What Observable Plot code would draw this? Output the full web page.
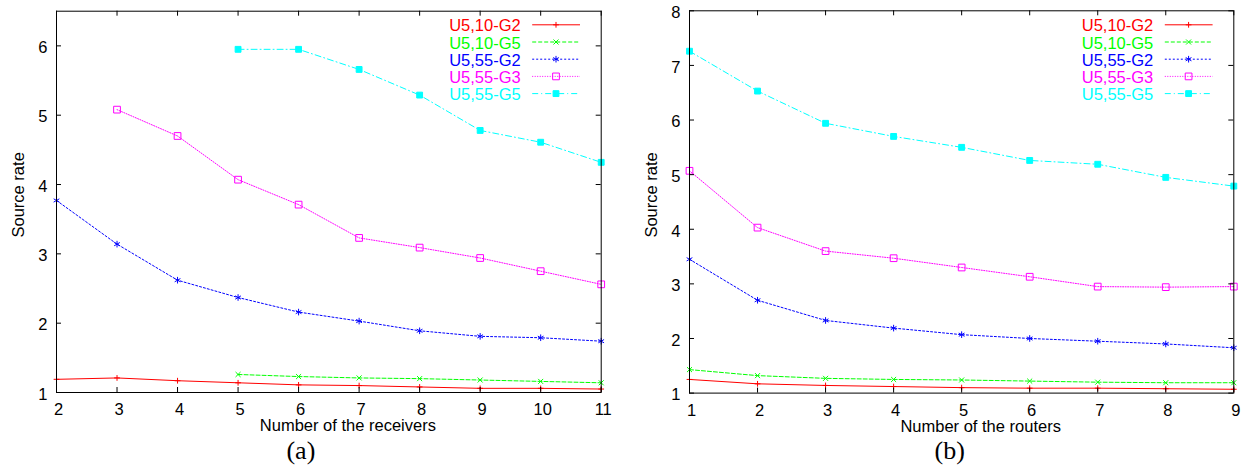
<!DOCTYPE html>
<html><head><meta charset="utf-8">
<script src="https://cdn.jsdelivr.net/npm/d3@7"></script>
<script src="https://cdn.jsdelivr.net/npm/@observablehq/plot@0.6"></script>
<style>
body{margin:0;background:#fff;}
#wrap{display:flex;width:1247px;height:466px;overflow:hidden;}
</style></head><body><div id="wrap"></div>
<script>
// ---- series (shared legend) ----
const seriesNames = ["U5,10-G2", "U5,10-G5", "U5,55-G2", "U5,55-G3", "U5,55-G5"];
const seriesColors = ["#ff0000", "#00ff00", "#0000ff", "#ff00ff", "#00ffff"];
const seriesDash = [null, "4,2", "2,2", "1,1.5", "6,3,1,3"];
const seriesSymbols = ["plus", "times", "asterisk", "square", "square"];
const seriesFill = ["none", "none", "none", "none", "#00ffff"];
const seriesR = [2.0, 2.4, 3.1, 3.8, 3.3];

// ---- panel (a): number of receivers ----
const receiversAll = [2, 3, 4, 5, 6, 7, 8, 9, 10, 11];
const receiversFrom3 = [3, 4, 5, 6, 7, 8, 9, 10, 11];
const receiversFrom5 = [5, 6, 7, 8, 9, 10, 11];
const a_U510G2 = [1.19, 1.21, 1.17, 1.14, 1.11, 1.10, 1.08, 1.06, 1.06, 1.05];
const a_U510G5 = [1.26, 1.23, 1.21, 1.20, 1.18, 1.16, 1.14];
const a_U555G2 = [3.77, 3.14, 2.62, 2.37, 2.16, 2.03, 1.89, 1.81, 1.79, 1.74];
const a_U555G3 = [5.08, 4.70, 4.07, 3.71, 3.23, 3.09, 2.94, 2.75, 2.56];
const a_U555G5 = [5.95, 5.95, 5.66, 5.29, 4.78, 4.61, 4.32];
const aXTicks = [2, 3, 4, 5, 6, 7, 8, 9, 10, 11];
const aYTicks = [1, 2, 3, 4, 5, 6];

// ---- panel (b): number of routers ----
const routers = [1, 2, 3, 4, 5, 6, 7, 8, 9];
const b_U510G2 = [1.25, 1.17, 1.14, 1.12, 1.10, 1.09, 1.09, 1.08, 1.07];
const b_U510G5 = [1.43, 1.32, 1.27, 1.25, 1.24, 1.22, 1.20, 1.19, 1.19];
const b_U555G2 = [3.45, 2.70, 2.33, 2.19, 2.07, 2.00, 1.95, 1.90, 1.83];
const b_U555G3 = [5.07, 4.03, 3.60, 3.47, 3.30, 3.13, 2.95, 2.94, 2.95];
const b_U555G5 = [7.26, 6.53, 5.94, 5.70, 5.50, 5.26, 5.19, 4.95, 4.79];
const bXTicks = [1, 2, 3, 4, 5, 6, 7, 8, 9];
const bYTicks = [1, 2, 3, 4, 5, 6, 7, 8];

const SANS = "Liberation Sans, Arial, sans-serif";
const d3Symbols = {plus: d3.symbolPlus, times: d3.symbolTimes, asterisk: d3.symbolAsterisk, square: d3.symbolSquare};

function legendMark(right) {
  return () => {
    const g = d3.create("svg:g").attr("font-family", SANS).attr("font-size", 16.5);
    seriesNames.forEach((name, i) => {
      const cy = 24.8 + i * 17.2;
      g.append("text").attr("x", right - 80).attr("y", cy + 6.5).attr("text-anchor", "end")
        .attr("fill", seriesColors[i]).text(name);
      g.append("line").attr("x1", right - 68.5).attr("x2", right - 20.7).attr("y1", cy).attr("y2", cy)
        .attr("stroke", seriesColors[i]).attr("stroke-width", 1)
        .attr("stroke-dasharray", seriesDash[i]);
      g.append("path").attr("d", d3.symbol(d3Symbols[seriesSymbols[i]], seriesR[i] ** 2 * Math.PI)())
        .attr("transform", `translate(${right - 44.7},${cy})`)
        .attr("fill", seriesFill[i]).attr("stroke", seriesColors[i]).attr("stroke-width", 1);
    });
    return g.node();
  };
}

function panel(cfg) {
  const rows = [];
  cfg.series.forEach(([xs, ys], s) => xs.forEach((x, j) => rows.push({x, y: ys[j], s})));
  const H = cfg.height - cfg.marginTop - cfg.marginBottom;
  const W = cfg.width - cfg.marginLeft - cfg.marginRight;
  const marks = [];
  seriesNames.forEach((n, s) => {
    const d = rows.filter(r => r.s === s);
    marks.push(Plot.line(d, {x: "x", y: "y", stroke: seriesColors[s], strokeWidth: 1,
      strokeDasharray: seriesDash[s] || undefined}));
  });
  seriesNames.forEach((n, s) => {
    const d = rows.filter(r => r.s === s);
    marks.push(Plot.dot(d, {x: "x", y: "y", symbol: seriesSymbols[s], r: seriesR[s],
      stroke: seriesColors[s], fill: seriesFill[s], strokeWidth: 1}));
  });
  // inward ticks on all four sides
  marks.push(Plot.tickX(cfg.xTicks, {x: d => d, insetTop: H - 5, stroke: "#000"}));
  marks.push(Plot.tickX(cfg.xTicks, {x: d => d, insetBottom: H - 5, stroke: "#000"}));
  marks.push(Plot.tickY(cfg.yTicks, {y: d => d, insetRight: W - 5, stroke: "#000"}));
  marks.push(Plot.tickY(cfg.yTicks, {y: d => d, insetLeft: W - 5, stroke: "#000"}));
  marks.push(Plot.frame({stroke: "#000", strokeWidth: 1}));
  marks.push(Plot.axisX(cfg.xTicks, {tickSize: 0, tickPadding: 11, label: null, dx: 2, fill: "#000",
    tickFormat: d3.format("d")}));
  marks.push(Plot.axisY(cfg.yTicks, {tickSize: 0, tickPadding: 9, label: null, dy: 2, fill: "#000",
    tickFormat: d3.format("d")}));
  marks.push(Plot.text([cfg.xLabel], {text: d => d, frameAnchor: "bottom", lineAnchor: "middle",
    textAnchor: "middle", dx: cfg.xLabelDx, dy: 33.5, fill: "#000"}));
  marks.push(Plot.text(["Source rate"], {text: d => d, frameAnchor: "left", lineAnchor: "middle",
    textAnchor: "middle", rotate: -90, dx: -38, dy: -7, fill: "#000"}));
  marks.push(Plot.text([cfg.caption], {text: d => d, frameAnchor: "bottom", lineAnchor: "middle",
    textAnchor: "middle", dx: cfg.captionDx, dy: 58,
    fontFamily: "Liberation Serif", fontSize: 26, fill: "#000"}));
  marks.push(legendMark(cfg.width - cfg.marginRight));
  return Plot.plot({
    width: cfg.width, height: cfg.height,
    marginLeft: cfg.marginLeft, marginRight: cfg.marginRight,
    marginTop: cfg.marginTop, marginBottom: cfg.marginBottom,
    x: {domain: cfg.xDomain, axis: null},
    y: {domain: cfg.yDomain, axis: null},
    style: {fontFamily: SANS, fontSize: "16.5px", background: "white", overflow: "visible"},
    marks
  });
}

const wrap = document.getElementById("wrap");
wrap.appendChild(panel({
  width: 623, height: 466, marginLeft: 56, marginRight: 22.3, marginTop: 10.7, marginBottom: 74,
  xDomain: [2, 11], yDomain: [1, 6.5], xTicks: aXTicks, yTicks: aYTicks,
  xLabel: "Number of the receivers", xLabelDx: 19, caption: "(a)", captionDx: -28,
  series: [[receiversAll, a_U510G2], [receiversFrom5, a_U510G5], [receiversAll, a_U555G2],
           [receiversFrom3, a_U555G3], [receiversFrom5, a_U555G5]]
}));
wrap.appendChild(panel({
  width: 624, height: 466, marginLeft: 66, marginRight: 13.7, marginTop: 10.3, marginBottom: 73.4,
  xDomain: [1, 9], yDomain: [1, 8], xTicks: bXTicks, yTicks: bYTicks,
  xLabel: "Number of the routers", xLabelDx: 19, caption: "(b)", captionDx: -12,
  series: [[routers, b_U510G2], [routers, b_U510G5], [routers, b_U555G2],
           [routers, b_U555G3], [routers, b_U555G5]]
}));
</script></body></html>
